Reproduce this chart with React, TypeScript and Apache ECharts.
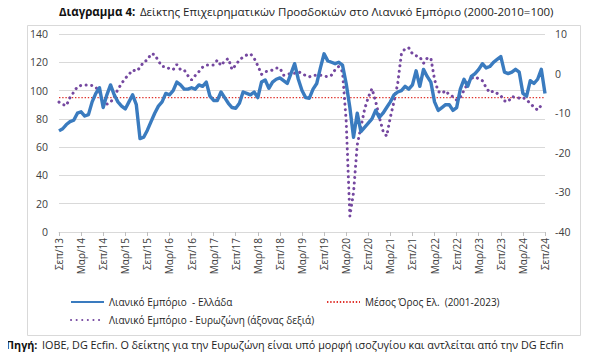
import React, { useEffect, useRef } from "react";
import * as echarts from "echarts";

const monthNames = ["Ιαν", "Φεβ", "Μαρ", "Απρ", "Μαϊ", "Ιουν", "Ιουλ", "Αυγ", "Σεπ", "Οκτ", "Νοε", "Δεκ"];
const startYear = 2013;
const startMonth = 8; // September (0-based)
const monthCount = 133; // Sep 2013 .. Sep 2024

const categories: string[] = [];
for (let k = 0; k < monthCount; k++) {
  const m = (startMonth + k) % 12;
  const y = startYear + Math.floor((startMonth + k) / 12);
  categories.push(monthNames[m] + "/" + String(y % 100).padStart(2, "0"));
}

const greeceRetail = [
  71.5, 73, 76, 78, 79, 84, 85, 82, 83, 92, 98, 102,
  88, 97, 104, 97, 92, 89, 87, 92, 97, 90, 66, 67,
  72, 78, 84, 89, 92, 98, 97, 100, 106, 104, 101, 101,
  102, 101, 104, 103, 106, 96, 93, 93, 99, 95, 91, 88,
  87.5, 91, 99, 98, 97, 99, 95, 106, 107.5, 101.6, 106, 108,
  109, 107, 105, 112, 119, 108, 100, 95, 94.6, 101, 105, 116,
  126, 121, 120, 119, 120, 118, 105, 88, 67, 84, 71, 74,
  77, 80, 86, 81, 84, 88, 92, 97, 99, 100, 103, 101,
  104, 114, 103, 115, 110, 106, 92, 86, 88, 90, 90, 86,
  88, 101, 108, 103, 110, 112, 115, 119, 116, 117, 120, 122,
  124, 113, 112, 113, 115, 113, 98, 96, 107, 105, 108, 115,
  98,
];

const eurozoneRetail = [
  -7.2, -7.8, -8.1, -6, -4.7, -3.3, -3, -2.9, -2.9, -3, -3.5, -4.5,
  -7.9, -7.7, -7.3, -5.8, -4, -2.5, -1.2, -0.2, 0.9, 0.6, 1.5, 3,
  3.4, 5, 4.8, 3.2, 1.8, 1.8, 1.2, 1.0, 2.3, 1, 0.9, -0.5,
  -1.6, -0.5, 0.5, 1.6, 2.2, 2.2, 2.2, 3.4, 2, 3.2, 3.8, 1,
  2.2, 3.4, 4.2, 4.7, 5, 3.9, 2, -0.2, 0.5, 0.6, 0.9, 1.4,
  1.4, -0.4, -0.3, 0.1, 0.1, 0.5, 0, -0.5, -0.8, -0.4, -0.4, -0.4,
  -0.6, -0.8, -0.4, 1.0, 1.8, 0.5, -12, -36, -30, -18, -13.5, -9,
  -6, -3.8, -7, -11, -14.5, -15.8, -11, -7, -2.5, 5, 6.3, 6.5,
  5, 4.5, 4.2, 2.6, 3.9, 3.9, -1.5, -4.5, -5, -4.3, -5.4, -5.8,
  -6.7, -6, -4.2, -2.5, -1.2, -0.8, -1.3, -1.8, -3.5, -4.8, -4.4, -5,
  -5.6, -6.9, -7.1, -5.8, -6, -6.2, -6, -6.7, -7.5, -8.5, -9.2, -8,
  -7.8,
];

const greeceMean = 95;
const meanSeries = categories.map(() => greeceMean);

const leftTicks = { min: 0, max: 140, interval: 20 };
const rightTicks = { min: -40, max: 10, interval: 10 };

const nameGreece = "Λιανικό Εμπόριο  - Ελλάδα";
const nameMean = "Μέσος Όρος Ελ.  (2001-2023)";
const nameEuro = "Λιανικό Εμπόριο - Ευρωζώνη (άξονας δεξιά)";

const FONT = "Open Sans";

export default function App() {
  const ref = useRef<HTMLDivElement>(null);
  useEffect(() => {
    if (!ref.current) return;
    const chart = echarts.init(ref.current, undefined, { renderer: "svg" });
    const legendText = { fontFamily: FONT, fontSize: 10, color: "#1f1f1f" };
    const legendCommon = {
      itemWidth: 33,
      itemHeight: 10,
      textStyle: legendText,
      itemStyle: { opacity: 0, borderWidth: 0 },
    };
    chart.setOption({
      animation: false,
      backgroundColor: "#ffffff",
      textStyle: { fontFamily: FONT },
      title: [
        {
          left: 59,
          top: 2,
          padding: [2, 0, 2, 0],
          text: "{b|Διάγραμμα 4:} {r|Δείκτης Επιχειρηματικών Προσδοκιών στο Λιανικό Εμπόριο (2000-2010=100)}",
          textStyle: {
            fontWeight: "normal",
            lineHeight: 14,
            rich: {
              b: { fontFamily: FONT, fontSize: 11.5, fontWeight: "bold", color: "#111", lineHeight: 14 },
              r: { fontFamily: FONT, fontSize: 11.5, fontWeight: "normal", color: "#222", lineHeight: 14 },
            },
          },
        },
        {
          left: 6,
          top: 335,
          padding: [2, 0, 2, 0],
          text: "{b|Πηγή:} {r|IOBE, DG Ecfin. Ο δείκτης για την Ευρωζώνη είναι υπό μορφή ισοζυγίου και αντλείται από την DG Ecfin}",
          textStyle: {
            fontWeight: "normal",
            lineHeight: 14,
            rich: {
              b: { fontFamily: FONT, fontSize: 10.8, fontWeight: "bold", color: "#111", lineHeight: 14 },
              r: { fontFamily: FONT, fontSize: 10.8, fontWeight: "normal", color: "#222", lineHeight: 14 },
            },
          },
        },
      ],
      graphic: [
        {
          type: "rect",
          left: 25,
          top: 23,
          shape: { width: 553, height: 310 },
          style: { fill: "none", stroke: "#d9d9d9", lineWidth: 1 },
          silent: true,
        },
      ],
      legend: [
        { left: 65, top: 292, data: [nameGreece], ...legendCommon },
        { left: 321, top: 292, data: [nameMean], ...legendCommon },
        { left: 65, top: 310, data: [nameEuro], ...legendCommon },
      ],
      grid: { left: 59, right: 55, top: 34, bottom: 131, containLabel: false },
      xAxis: {
        type: "category",
        data: categories,
        boundaryGap: false,
        axisLine: { lineStyle: { color: "#d9d9d9" } },
        axisTick: { show: true, interval: 5, length: 4, lineStyle: { color: "#bfbfbf" } },
        axisLabel: {
          interval: 5,
          rotate: 90,
          fontFamily: FONT,
          fontSize: 10,
          color: "#404040",
          margin: 6,
        },
      },
      yAxis: [
        {
          type: "value",
          ...leftTicks,
          axisLine: { show: false },
          axisTick: { show: false },
          axisLabel: { fontFamily: FONT, fontSize: 10.5, color: "#404040", margin: 11 },
          splitLine: { lineStyle: { color: "#d9d9d9", width: 1 } },
        },
        {
          type: "value",
          ...rightTicks,
          position: "right",
          axisLine: { show: false },
          axisTick: { show: false },
          axisLabel: { fontFamily: FONT, fontSize: 10.5, color: "#404040", margin: 10 },
          splitLine: { show: false },
        },
      ],
      series: [
        {
          name: nameMean,
          type: "line",
          data: meanSeries,
          yAxisIndex: 0,
          symbol: "none",
          z: 2,
          lineStyle: { color: "#e0342e", width: 1.4, type: [1.4, 1.8] },
          itemStyle: { color: "#e0342e" },
        },
        {
          name: nameEuro,
          type: "line",
          data: eurozoneRetail,
          yAxisIndex: 1,
          symbol: "none",
          z: 3,
          lineStyle: { color: "#7548a0", width: 3, type: [0.1, 5.5], cap: "round" },
          itemStyle: { color: "#7548a0" },
        },
        {
          name: nameGreece,
          type: "line",
          data: greeceRetail,
          yAxisIndex: 0,
          symbol: "none",
          z: 4,
          lineStyle: { color: "#3a7bbf", width: 3.4, join: "round" },
          itemStyle: { color: "#3a7bbf" },
        },
      ],
    });
    return () => chart.dispose();
  }, []);
  return <div ref={ref} style={{ width: 600, height: 363, margin: -8 }} />;
}
